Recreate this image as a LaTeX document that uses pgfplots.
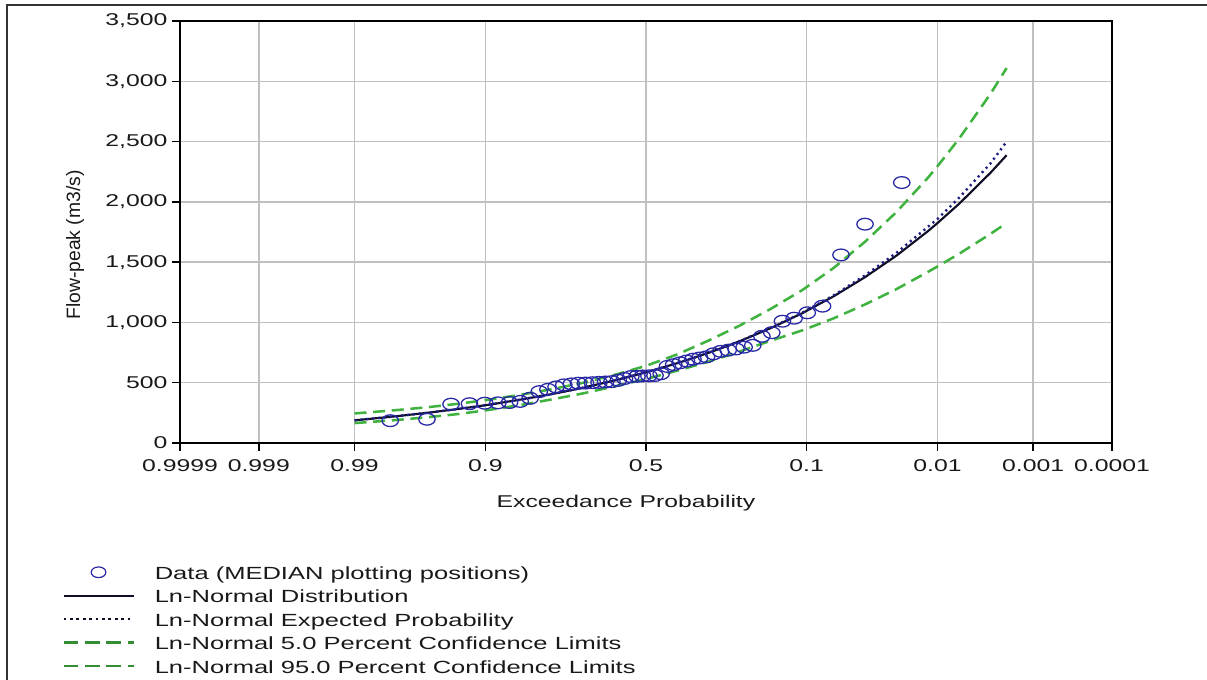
\documentclass[border=0pt]{standalone}
\usepackage{pgfplots}
\pgfplotsset{compat=1.18}
\usepackage{pgfplotstable}
\usepackage{fontspec}
\setmainfont{Liberation Sans}[FakeStretch=1.45]
\newfontfamily\ylabfont{Liberation Sans}
\definecolor{txt}{RGB}{25,25,25}
\definecolor{gridc}{RGB}{192,192,192}
\definecolor{datac}{RGB}{40,40,165}
\definecolor{fitc}{RGB}{15,15,40}
\definecolor{expc}{RGB}{30,30,130}
\definecolor{confc}{RGB}{64,178,64}

% Data: x = standard normal quantile of (1 - exceedance probability), q = peak flow
\pgfplotstableread{
z q
2.041 2160
1.748 1815
1.556 1560
1.409 1135
1.287 1080
1.182 1035
1.089 1010
1.004 915
0.925 885
0.852 810
0.783 795
0.718 780
0.656 770
0.596 760
0.539 740
0.483 715
0.428 705
0.375 695
0.323 680
0.272 665
0.221 650
0.171 635
0.121 575
0.072 560
0.023 557
-0.027 556
-0.072 553
-0.121 551
-0.171 535
-0.221 520
-0.272 509
-0.323 506
-0.375 503
-0.428 500
-0.483 497
-0.539 496
-0.596 490
-0.656 482
-0.718 465
-0.783 445
-0.852 426
-0.925 371
-1.004 345
-1.089 336
-1.182 333
-1.287 330
-1.409 326
-1.556 322
-1.748 197
-2.041 185
}\data

\pgfplotstableread{
z fit exp lo hi
-2.326 188 188 165 245
-2.0 221 221 190 272
-1.75 250 250 213 296
-1.5 282 282 240 325
-1.25 318 318 275 360
-1.0 360 360 315 400
-0.75 406 406 362 447
-0.5 459 459 412 500
-0.25 519 519 470 565
0 586 586 530 640
0.25 662 662 600 735
0.5 748 748 675 850
0.75 845 846 760 975
1.0 955 958 850 1115
1.25 1078 1082 935 1270
1.5 1218 1226 1035 1454
1.75 1377 1392 1150 1671
2.0 1555 1578 1277 1917
2.25 1757 1793 1419 2200
2.326 1824 1858 1464 2295
2.5 1985 2035 1570 2526
2.75 2242 2320 1735 2897
2.878 2387 2500 1825 3110
}\curves

\begin{document}
\begin{tikzpicture}
\path[use as bounding box] (0pt,0pt) rectangle (905.25pt,-510pt);
\draw[line width=1.1pt, color=black!80] (5.25pt,-510pt) -- (5.25pt,-3.75pt) -- (905.25pt,-3.75pt);
\begin{axis}[
  at={(135pt,-332.25pt)}, anchor=south west,
  scale only axis, width=699pt, height=316.5pt,
  xmin=-3.719, xmax=3.719, ymin=0, ymax=3500,
  xtick={-3.719,-3.090,-2.326,-1.2816,0,1.2816,2.326,3.090,3.719},
  xticklabels={0.9999,0.999,0.99,0.9,0.5,0.1,0.01,0.001,0.0001},
  ytick={0,500,1000,1500,2000,2500,3000,3500},
  scaled y ticks=false,
  /pgf/number format/1000 sep={,},
  /pgf/number format/assume math mode=true,
  tick label style={font=\fontsize{12.8}{14}\selectfont, text=txt},
  xticklabel style={yshift=-3pt},
  xtick pos=bottom, ytick pos=left,
  tick align=outside,
  major tick length=6pt,
  tick style={black, line width=1.1pt},
  axis line style={black, line width=1.5pt},
  grid=major,
  major grid style={gridc, line width=1.1pt},
  legend style={at={(-0.1266,-0.2916)}, anchor=north west, draw=none, fill=none,
    inner sep=0pt, row sep=6.1pt,
    nodes={inner sep=0pt, text height=9pt, text depth=2.5pt},
    font=\fontsize{13.2}{15}\selectfont, text=txt,
    /tikz/every odd column/.append style={column sep=15pt}},
  legend cell align=left,
]
\addplot[confc, line width=1.9pt, dash pattern=on 9pt off 5pt, forget plot] table[x=z,y=hi]{\curves};
\addplot[confc, line width=1.9pt, dash pattern=on 9pt off 5pt, forget plot] table[x=z,y=lo]{\curves};
\addplot[fitc, line width=1.6pt, forget plot] table[x=z,y=fit]{\curves};
\addplot[expc, line width=1.8pt, dash pattern=on 1.6pt off 2.8pt, forget plot] table[x=z,y=exp]{\curves};
\addplot[only marks, mark=o, mark size=4.4pt, datac, mark options={xscale=1.4, line width=0.95pt}, forget plot] table[x=z,y=q]{\data};

\addlegendimage{legend image code/.code={\draw[datac, line width=0.9pt] (26.25pt,2pt) ellipse[x radius=5.5pt, y radius=4pt];}}
\addlegendentry{Data (MEDIAN plotting positions)}
\addlegendimage{legend image code/.code={\draw[fitc, line width=1.6pt] (0pt,2pt) -- (52.5pt,2pt);}}
\addlegendentry{Ln-Normal Distribution}
\addlegendimage{legend image code/.code={\draw[fitc, line width=1.8pt, dash pattern=on 2.2pt off 2.6pt] (0pt,2pt) -- (52.5pt,2pt);}}
\addlegendentry{Ln-Normal Expected Probability}
\addlegendimage{legend image code/.code={\draw[confc!80!black, line width=1.9pt, dash pattern=on 11pt off 5pt] (0pt,2pt) -- (52.5pt,2pt);}}
\addlegendentry{Ln-Normal 5.0 Percent Confidence Limits}
\addlegendimage{legend image code/.code={\draw[confc!80!black, line width=1.9pt, dash pattern=on 11pt off 5pt] (0pt,2pt) -- (52.5pt,2pt);}}
\addlegendentry{Ln-Normal 95.0 Percent Confidence Limits}
\end{axis}
\node[rotate=90, font=\ylabfont\fontsize{14.5}{16}\selectfont, text=txt] at (56.25pt,-183.75pt) {Flow-peak (m3/s)};
\node[font=\fontsize{12.8}{14}\selectfont, text=txt] at (469.5pt,-377pt) {Exceedance Probability};
\end{tikzpicture}
\end{document}
